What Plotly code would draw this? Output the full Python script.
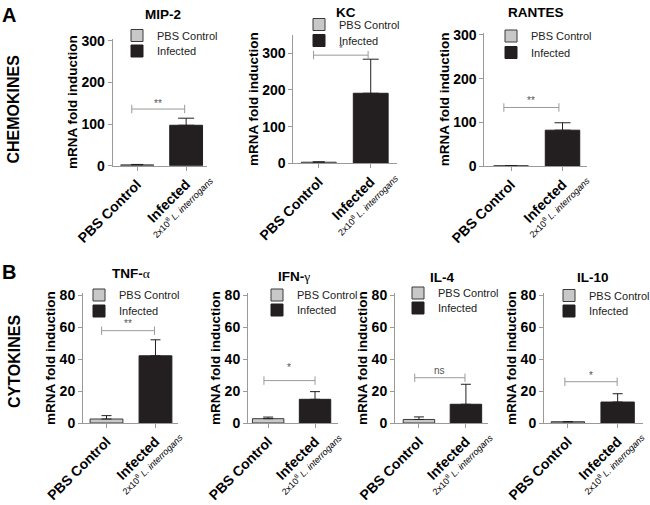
import plotly.graph_objects as go

W, H = 650, 505
FONT = "Arial, 'Liberation Sans', Helvetica, sans-serif"

# ---------------- data ----------------
panel_names = ["MIP-2", "KC", "RANTES", "TNF-α", "IFN-γ", "IL-4", "IL-10"]
group_names = ["PBS Control", "Infected"]
pbs_mean = [2, 3, 0.5, 2.5, 2.7, 2.2, 0.8]
pbs_err = [1, 1, 0, 2.1, 1.0, 1.6, 0]
inf_mean = [97, 191, 82, 42, 14.8, 11.7, 13.1]
inf_err = [17, 93, 17, 10, 4.8, 12.5, 5.2]
sig_labels = ["**", "*", "**", "**", "*", "ns", "*"]
sig_bracket_y = [136, 295, 134, 57.7, 26.5, 28.3, 25.8]
sig_label_y = [150, 314, 149, 62.5, 34.4, 32.7, 30]
sig_x0 = [-0.11, -0.1, -0.14, -0.1, -0.09, -0.09, -0.06]
sig_x1 = [0.97, 0.95, 0.93, 0.98, 1.0, 0.98, 0.99]
y_max = [305, 350, 305, 81, 81, 81, 81]
y_dtick = [100, 100, 100, 20, 20, 20, 20]
section_labels = ["CHEMOKINES", "CYTOKINES"]
dose_label = "2x10<sup>8</sup> <i>L. interrogans</i>"

# ---------------- layout geometry (pixels) ----------------
geom = [
    (112.7, 206.7, 165.7, 38.6, [-0.5, 1.42]),
    (293.3, 396.7, 163.3, 35.0, [-0.49, 1.5]),
    (484.3, 586.7, 166.0, 32.8, [-0.52, 1.47]),
    (83.0, 178.0, 423.0, 293.4, [-0.48, 1.46]),
    (248.0, 338.0, 423.0, 293.4, [-0.43, 1.49]),
    (395.0, 488.0, 423.0, 293.4, [-0.51, 1.47]),
    (544.0, 643.0, 423.0, 293.4, [-0.48, 1.51]),
]
title_pos = [(163, 14.5), (346, 12), (536, 12), (131, 273), (294, 276), (442, 277), (593, 277)]
legend_pos = [(148, 35.5, 51), (330, 24.5, 40.5), (522, 36, 52.5),
              (110, 295, 311), (288, 295, 310), (429, 293, 308), (580, 295.5, 311)]

title_html = ["<b>MIP-2</b>", "<b>KC</b>", "<b>RANTES</b>",
              "<b>TNF-</b><span style='font-family:Liberation Serif'>α</span>",
              "<b>IFN-</b><span style='font-family:Liberation Serif'>γ</span>",
              "<b>IL-4</b>", "<b>IL-10</b>"]

AXC = "#9a9a9a"
fig = go.Figure()
layout = dict(width=W, height=H, margin=dict(l=0, r=0, t=0, b=0, pad=0, autoexpand=False),
              paper_bgcolor="white", plot_bgcolor="white", showlegend=True,
              template="none",
              font=dict(family=FONT, color="black"), bargap=0)
annotations = []

for i in range(7):
    sfx = "" if i == 0 else str(i + 1)
    xr, yr = "x" + sfx, "y" + sfx
    leg_a = "legend" if i == 0 else f"legend{2 * i + 1}"
    leg_b = f"legend{2 * i + 2}"
    fig.add_trace(go.Bar(
        x=[0], y=[pbs_mean[i]], width=0.67, name=group_names[0],
        marker=dict(color="#c8c8c8", line=dict(color="#3a3a3a", width=1)),
        error_y=dict(type="data", symmetric=False, array=[pbs_err[i]], arrayminus=[0],
                     color="#231f20", thickness=1, width=6 if i < 3 else 5),
        xaxis=xr, yaxis=yr, legend=leg_a, hoverinfo="skip"))
    fig.add_trace(go.Bar(
        x=[1], y=[inf_mean[i]], width=0.67, name=group_names[1],
        marker=dict(color="#231f20", line=dict(color="#231f20", width=1)),
        error_y=dict(type="data", symmetric=False, array=[inf_err[i]], arrayminus=[0],
                     color="#231f20", thickness=1, width=8 if i < 3 else 5),
        xaxis=xr, yaxis=yr, legend=leg_b, hoverinfo="skip"))
    fig.add_trace(go.Scatter(
        x=[sig_x0[i], sig_x1[i]], y=[sig_bracket_y[i]] * 2, mode="lines+markers",
        line=dict(color=AXC, width=1),
        marker=dict(symbol="line-ns", size=6, line=dict(color=AXC, width=1)),
        showlegend=False, hoverinfo="skip", xaxis=xr, yaxis=yr))
    annotations.append(dict(x=(sig_x0[i] + sig_x1[i]) / 2, y=sig_label_y[i], xref=xr, yref=yr,
                            text=sig_labels[i], showarrow=False, xanchor="center",
                            yanchor="middle", font=dict(size=10, color="#555")))
    # dose sub-label under the "Infected" tick
    annotations.append(dict(x=1, y=0, xref=xr, yref=yr, text=dose_label, textangle=-45,
                            showarrow=False, xanchor="right", yanchor="top",
                            xshift=31, yshift=-7, borderpad=0,
                            font=dict(size=9, color="black")))

    x0, x1, yb, yt, xrange_ = geom[i]
    layout["xaxis" + sfx] = dict(
        domain=[x0 / W, x1 / W], range=xrange_, anchor=yr, tickvals=[0, 1],
        ticktext=["<b>" + g + "</b>" for g in group_names], tickangle=-45,
        ticks="outside", ticklen=4,
        tickcolor=AXC, showline=True, linecolor=AXC, linewidth=1, showgrid=False,
        zeroline=False, automargin=False,
        tickfont=dict(size=14, color="black", family=FONT), fixedrange=True)
    layout["yaxis" + sfx] = dict(
        domain=[1 - yb / H, 1 - yt / H], range=[0, y_max[i]], anchor=xr, dtick=y_dtick[i],
        tick0=0, ticks="outside", ticklen=4, tickcolor=AXC, showline=True, linecolor=AXC,
        linewidth=1, showgrid=False, zeroline=False, automargin=False,
        tickfont=dict(size=14, color="black", family=FONT, weight="bold"),
        title=dict(text="<b>mRNA fold induction</b>", font=dict(size=13.5, color="black"),
                   standoff=0), fixedrange=True)

    tx, ty = title_pos[i]
    annotations.append(dict(x=tx / W, y=1 - ty / H, xref="paper", yref="paper",
                            text=title_html[i], showarrow=False, xanchor="center",
                            yanchor="middle", font=dict(size=13.5, color="black")))

    lx, ly1, ly2 = legend_pos[i]
    for leg, ly in ((leg_a, ly1), (leg_b, ly2)):
        layout[leg] = dict(x=(lx - 31) / W, y=1 - ly / H, xanchor="left", yanchor="middle",
                           bgcolor="rgba(0,0,0,0)", borderwidth=0, itemwidth=30,
                           font=dict(size=11, color="#222", family=FONT))

annotations += [
    dict(x=0, y=1 - 2 / H, xref="paper", yref="paper", text="<b>A</b>", showarrow=False,
         xanchor="left", yanchor="top", font=dict(size=20, color="black")),
    dict(x=0, y=1 - 259 / H, xref="paper", yref="paper", text="<b>B</b>", showarrow=False,
         xanchor="left", yanchor="top", font=dict(size=20, color="black")),
    dict(x=13.5 / W, y=1 - 109 / H, xref="paper", yref="paper",
         text=f"<b>{section_labels[0]}</b>", textangle=-90, showarrow=False,
         xanchor="center", yanchor="middle", font=dict(size=16, color="black")),
    dict(x=14 / W, y=1 - 362 / H, xref="paper", yref="paper",
         text=f"<b>{section_labels[1]}</b>", textangle=-90, showarrow=False,
         xanchor="center", yanchor="middle", font=dict(size=16, color="black")),
]
layout["annotations"] = annotations
fig.update_layout(**layout)
fig.write_html("out.html", config={"displayModeBar": False, "staticPlot": True},
               post_script="document.body.style.margin='0px';")
